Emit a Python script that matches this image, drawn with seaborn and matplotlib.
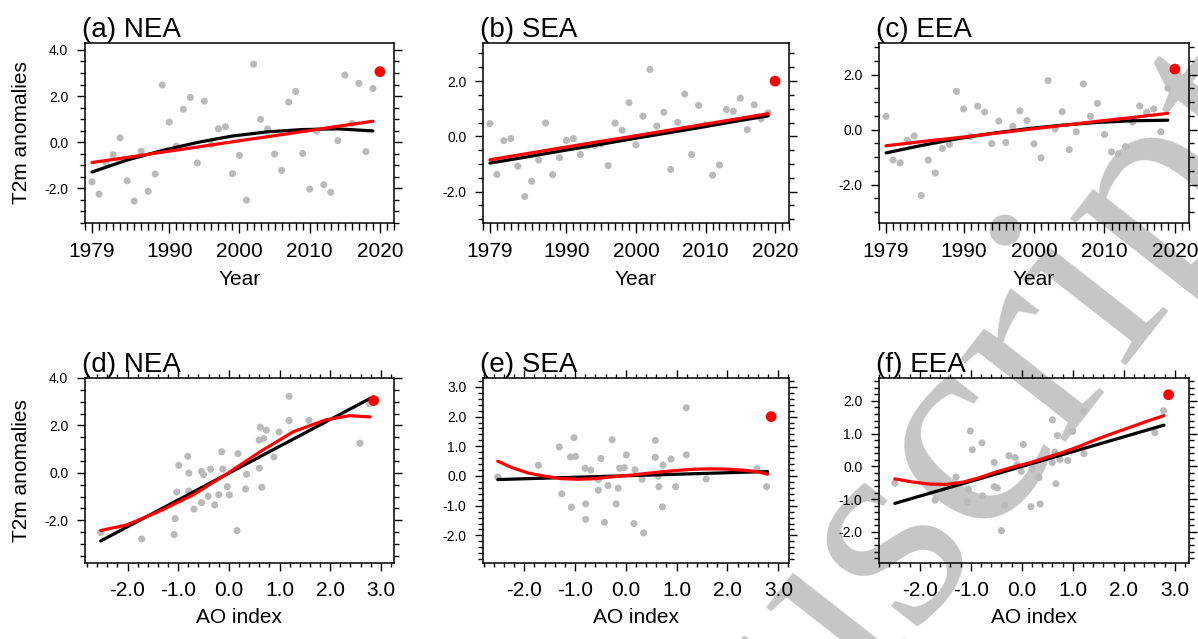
import matplotlib
matplotlib.use("Agg")
import matplotlib.pyplot as plt
import seaborn as sns
import pandas as pd
from matplotlib.ticker import MultipleLocator, FixedLocator, FormatStrFormatter

sns.set_style("ticks")
plt.rcParams["font.family"] = ["Liberation Sans", "DejaVu Sans"]
plt.rcParams["axes.unicode_minus"] = False
for key in ["text.color", "axes.labelcolor", "xtick.color", "ytick.color", "axes.edgecolor"]:
    plt.rcParams[key] = "black"

# ---- data ----
years = list(range(1979, 2021))

t2m_nea = [-1.72, -2.25, -0.90, -0.54, 0.19, -1.67, -2.55, -0.39, -2.13, -1.38,
           2.48, 0.87, -0.17, 1.43, 1.94, -0.90, 1.78, -0.10, 0.58, 0.67,
           -1.36, -0.57, -2.51, 3.38, 0.99, 0.57, -0.51, -1.22, 1.74, 2.20,
           -0.49, -2.03, 0.48, -1.84, -2.17, 0.07, 2.91, 0.81, 2.55, -0.41,
           2.33, 3.06]
t2m_sea = [0.46, -1.38, -0.16, -0.08, -1.08, -2.18, -1.63, -0.86, 0.48, -1.39,
           -0.77, -0.15, -0.08, -0.66, -0.35, -0.33, -0.28, -1.06, 0.48, 0.22,
           1.22, -0.31, 0.73, 2.42, 0.37, 0.87, -1.20, 0.51, 1.53, -0.66,
           1.12, 0.42, -1.41, -1.04, 0.97, 0.91, 1.38, 0.24, 1.14, 0.63,
           0.85, 2.00]
t2m_eea = [0.48, -1.11, -1.21, -0.39, -0.23, -2.40, -1.11, -1.58, -0.69, -0.54,
           1.39, 0.75, -0.25, 0.85, 0.64, -0.51, 0.31, -0.47, 0.12, 0.68,
           0.33, -0.52, -1.03, 1.78, 0.02, 0.65, -0.73, -0.08, 1.66, 0.48,
           0.95, -0.18, -0.81, -0.88, -0.62, 0.27, 0.86, 0.63, 0.75, -0.08,
           1.51, 2.20]

# fitted curves (top row), sampled at these years
fit_years = [1979, 1984, 1989, 1994, 1999, 2004, 2009, 2014, 2019]
nea_black = [-1.29, -0.77, -0.36, -0.01, 0.27, 0.45, 0.55, 0.58, 0.49]
nea_red = [-0.88, -0.66, -0.43, -0.21, 0.02, 0.24, 0.46, 0.69, 0.91]
sea_black = [-0.97, -0.76, -0.54, -0.33, -0.11, 0.10, 0.31, 0.53, 0.74]
sea_red = [-0.85, -0.64, -0.43, -0.22, -0.02, 0.19, 0.40, 0.61, 0.82]
eea_black = [-0.85, -0.58, -0.34, -0.14, 0.03, 0.16, 0.26, 0.32, 0.34]
eea_red = [-0.59, -0.44, -0.30, -0.15, 0.00, 0.15, 0.30, 0.44, 0.59]

# bottom row: AO index vs T2m (last entry = 2020)
ao_d = [-2.53, -1.72, -1.08, -1.06, -1.03, -0.99, -0.81, -0.79, -0.79, -0.69,
        -0.54, -0.50, -0.54, -0.41, -0.36, -0.28, -0.20, -0.14, -0.12, -0.03,
        0.01, 0.16, 0.18, 0.35, 0.33, 0.60, 0.60, 0.62, 0.65, 0.69,
        0.74, 0.89, 0.99, 1.19, 1.19, 1.58, 2.59, 2.78, 2.86]
t2m_d = [-2.52, -2.79, -2.60, -1.93, -0.81, 0.32, 0.70, -0.01, -0.77, -1.53,
         0.06, -0.07, -1.25, -0.99, 0.16, -1.35, -0.92, 0.89, 0.16, -0.58,
         -0.93, -2.43, 0.81, -0.06, -0.68, 0.20, 1.38, 1.93, -0.61, 1.45,
         1.80, 0.67, 1.72, 3.23, 2.21, 2.21, 1.25, 2.91, 3.05]
ao_e = [-2.52, -1.72, -1.31, -1.26, -1.09, -1.07, -1.02, -0.99, -0.80, -0.79,
        -0.79, -0.69, -0.54, -0.54, -0.49, -0.42, -0.35, -0.27, -0.19, -0.15,
        -0.12, -0.03, 0.01, 0.16, 0.18, 0.32, 0.35, 0.58, 0.58, 0.64,
        0.65, 0.72, 0.73, 0.89, 0.98, 1.19, 1.19, 1.58, 2.58, 2.77, 2.86]
t2m_e = [-0.03, 0.36, 0.98, -0.60, 0.64, -1.05, 1.29, 0.66, 0.26, -0.94,
         -1.46, 0.20, -0.12, -0.48, 0.59, -1.56, -0.32, 1.22, -0.94, -0.41,
         0.26, 0.28, 0.71, -1.60, 0.21, -0.11, -1.92, 1.20, 0.63, -0.01,
         -0.36, -1.04, 0.37, 0.57, -0.36, 2.30, 0.71, -0.10, 0.24, -0.36, 2.00]
ao_f = [-2.49, -1.70, -1.29, -1.07, -1.05, -1.01, -0.97, -0.78, -0.77, -0.54,
        -0.54, -0.48, -0.40, -0.34, -0.25, -0.13, -0.09, -0.01, 0.03, 0.18,
        0.20, 0.34, 0.36, 0.60, 0.60, 0.65, 0.67, 0.70, 0.75, 0.90,
        1.00, 1.21, 1.22, 2.61, 2.78, 2.88]
t2m_f = [-0.51, -1.03, -0.33, -1.09, -0.69, 1.08, 0.51, 0.72, -0.90, -0.62,
         0.12, -0.66, -1.96, -1.18, 0.33, 0.27, 0.05, -0.15, 0.67, -1.23,
         -0.08, -0.34, -1.15, 0.12, 1.42, 0.44, -0.53, 0.94, 0.21, 0.18,
         1.07, 1.68, 0.39, 1.03, 1.70, 2.19]

# fitted curves (bottom row)
d_black_x = [-2.53, 2.79]
d_black = [-2.87, 3.14]
d_red_x = [-2.53, -2.02, -1.36, -0.70, -0.05, 0.61, 1.27, 1.92, 2.38, 2.79]
d_red = [-2.43, -2.20, -1.61, -0.92, -0.06, 0.88, 1.73, 2.24, 2.41, 2.36]
e_black_x = [-2.52, 2.79]
e_black = [-0.12, 0.15]
e_red_x = [-2.52, -2.25, -1.92, -1.59, -1.26, -0.94, -0.61, -0.28, 0.05,
           0.37, 0.70, 1.03, 1.36, 1.68, 2.01, 2.34, 2.60, 2.79]
e_red = [0.50, 0.29, 0.10, -0.01, -0.09, -0.11, -0.09, -0.03, 0.02,
         0.08, 0.14, 0.19, 0.23, 0.24, 0.23, 0.19, 0.14, 0.06]
f_black_x = [-2.49, 2.79]
f_black = [-1.13, 1.26]
f_red_x = [-2.49, -2.13, -1.80, -1.48, -1.15, -0.82, -0.50, -0.17, 0.16,
           0.48, 0.81, 1.14, 1.46, 1.79, 2.12, 2.44, 2.79]
f_red = [-0.38, -0.48, -0.54, -0.55, -0.48, -0.34, -0.17, -0.02, 0.11,
         0.27, 0.43, 0.62, 0.82, 1.01, 1.19, 1.37, 1.55]

titles = ["(a) NEA", "(b) SEA", "(c) EEA", "(d) NEA", "(e) SEA", "(f) EEA"]
watermark = "Manuscript"

# ---- layout (pixel boxes of the six frames) ----
W, H = 1198, 639
cols = [(85, 394), (483, 789), (879, 1189)]
rows = [(43, 223), (378, 563)]

GRAY = "#bababa"
RED = "#ff0000"

fig = plt.figure(figsize=(W / 100, H / 100), dpi=100)


def make_ax(r, c):
    x0, x1 = cols[c]
    y0, y1 = rows[r]
    ax = fig.add_axes([x0 / W, 1 - y1 / H, (x1 - x0) / W, (y1 - y0) / H])
    ax.set_facecolor("none")
    return ax


def draw(ax, x, y, bx, by, rx, ry):
    pts = pd.DataFrame({"x": x, "y": y})
    sns.scatterplot(data=pts.iloc[:-1], x="x", y="y", ax=ax, color=GRAY,
                    s=26, edgecolor="none", zorder=2)
    sns.lineplot(x=bx, y=by, ax=ax, color="black", lw=2.3, sort=False, zorder=3)
    sns.lineplot(x=rx, y=ry, ax=ax, color=RED, lw=2.3, sort=False, zorder=4)
    sns.scatterplot(data=pts.iloc[-1:], x="x", y="y", ax=ax, color=RED,
                    s=60, edgecolor="none", zorder=5)


def style(ax, title, top, ylim, ymaj, ymin):
    ax.set_ylim(*ylim)
    ax.yaxis.set_major_locator(MultipleLocator(ymaj))
    ax.yaxis.set_minor_locator(MultipleLocator(ymin))
    ax.yaxis.set_major_formatter(FormatStrFormatter("%.1f"))
    ax.tick_params(axis="y", which="both", direction="out", left=True, right=True,
                   labelsize=10, pad=6, width=1)
    ax.tick_params(axis="y", which="major", length=6)
    ax.tick_params(axis="y", which="minor", length=3.5)
    ax.tick_params(axis="x", which="both", direction="out", bottom=True, top=top,
                   labelsize=15, pad=7, width=1)
    ax.tick_params(axis="x", which="major", length=6)
    ax.tick_params(axis="x", which="minor", length=4)
    for sp in ax.spines.values():
        sp.set_color("black")
        sp.set_linewidth(1.1)
    ax.set_title(title, loc="left", fontsize=20, pad=3, x=-0.01)
    ax.set_ylabel("")


top_data = [(t2m_nea, nea_black, nea_red, (-3.5, 4.3)),
            (t2m_sea, sea_black, sea_red, (-3.14, 3.38)),
            (t2m_eea, eea_black, eea_red, (-3.4, 3.15))]
for c, (vals, blk, red, ylim) in enumerate(top_data):
    ax = make_ax(0, c)
    draw(ax, years, vals, fit_years, blk, fit_years, red)
    style(ax, titles[c], False, ylim, 2.0, 0.5)
    ax.set_xlim(1978, 2022)
    ax.xaxis.set_major_locator(FixedLocator([1979, 1990, 2000, 2010, 2020]))
    ax.xaxis.set_minor_locator(MultipleLocator(1))
    ax.tick_params(axis="x", which="major", length=7)
    ax.tick_params(axis="x", which="minor", length=5)
    ax.set_xlabel("Year", fontsize=15, labelpad=6)
    if c == 0:
        ax.set_ylabel("T2m anomalies", fontsize=15)
        ax.yaxis.set_label_coords(-0.175, 0.5)

bottom_data = [(ao_d, t2m_d, d_black_x, d_black, d_red_x, d_red, (-2.84, 3.26), (-3.8, 4.0), 2.0, 0.5),
               (ao_e, t2m_e, e_black_x, e_black, e_red_x, e_red, (-2.81, 3.21), (-2.93, 3.3), 1.0, 0.2),
               (ao_f, t2m_f, f_black_x, f_black, f_red_x, f_red, (-2.80, 3.28), (-2.95, 2.7), 1.0, 0.2)]
for c, (x, y, bx, by, rx, ry, xlim, ylim, ymaj, ymin) in enumerate(bottom_data):
    ax = make_ax(1, c)
    draw(ax, x, y, bx, by, rx, ry)
    style(ax, titles[3 + c], True, ylim, ymaj, ymin)
    ax.set_xlim(*xlim)
    ax.xaxis.set_major_locator(MultipleLocator(1.0))
    ax.xaxis.set_minor_locator(MultipleLocator(0.2))
    ax.xaxis.set_major_formatter(FormatStrFormatter("%.1f"))
    ax.tick_params(axis="x", which="minor", length=3)
    ax.set_xlabel("AO index", fontsize=15, labelpad=6)
    if c == 0:
        ax.set_ylabel("T2m anomalies", fontsize=15)
        ax.yaxis.set_label_coords(-0.175, 0.5)

# journal watermark running diagonally across the right half, behind the data
fig.text(845 / W, 1 - 600 / H, watermark, fontsize=210, color="#c6c6c6",
         family="Liberation Serif", rotation=52, ha="center", va="center",
         rotation_mode="anchor", zorder=-1)

fig.savefig("out.png", dpi=100, facecolor="white")
